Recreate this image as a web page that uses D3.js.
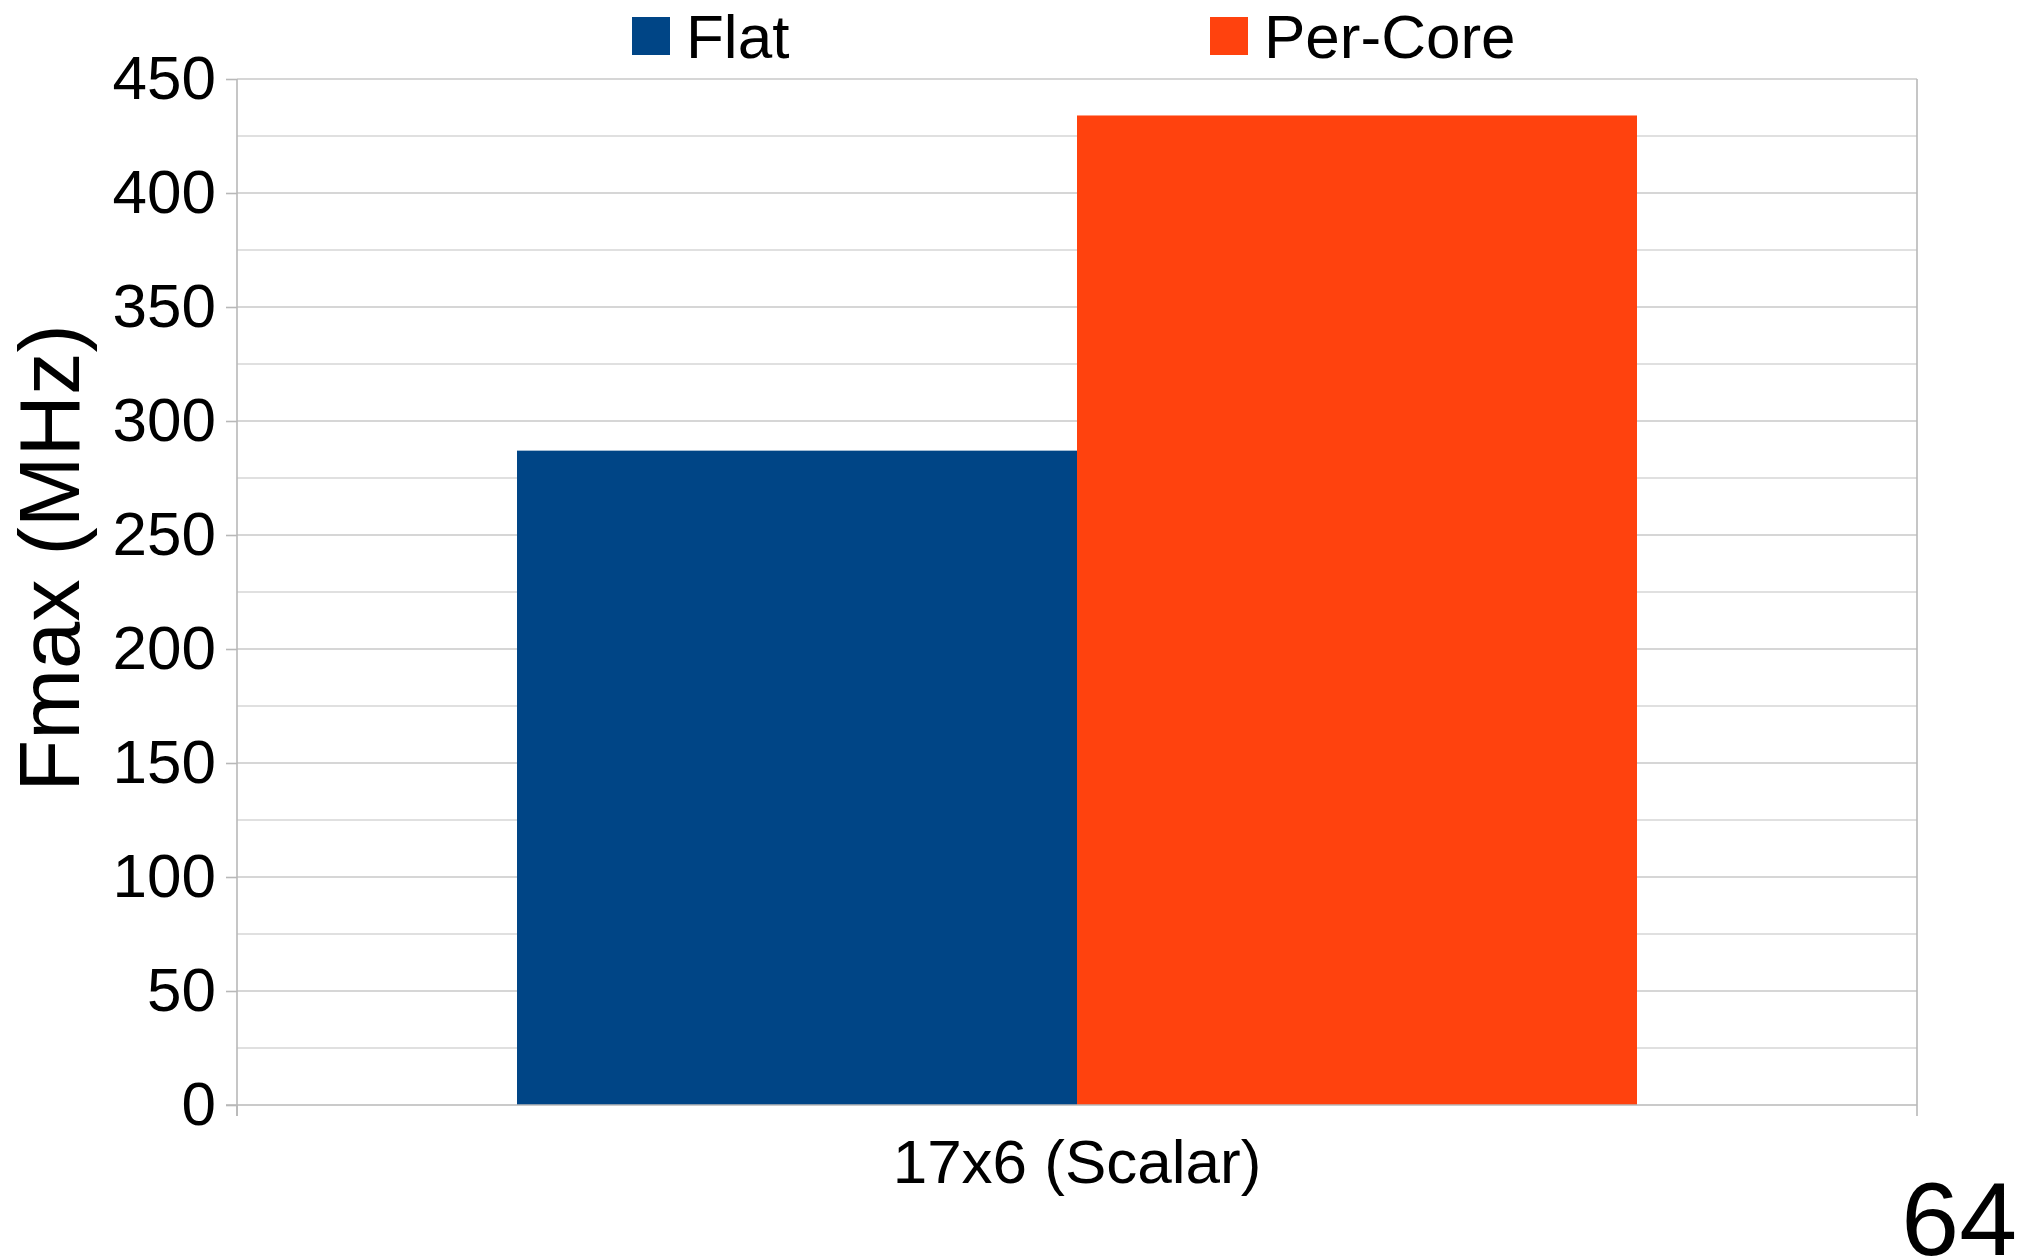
<!DOCTYPE html>
<html>
<head>
<meta charset="utf-8">
<script src="https://cdn.jsdelivr.net/npm/d3@7"></script>
<style>
  html, body { margin: 0; padding: 0; background: #ffffff; }
  svg { display: block; font-family: "Liberation Sans", Arial, sans-serif; }
</style>
</head>
<body>
<svg id="chart" width="2031" height="1258"></svg>
<script>
// Chart data
const categories = ["17x6 (Scalar)"];
const seriesNames = ["Flat", "Per-Core"];
const flatValues = [287];
const perCoreValues = [434];
const yTicks = [0, 50, 100, 150, 200, 250, 300, 350, 400, 450];
const yMinorTicks = [25, 75, 125, 175, 225, 275, 325, 375, 425];
const pageNumber = "64";

const colors = { "Flat": "#004586", "Per-Core": "#ff420e" };

const rows = categories.map((c, i) => ({
  category: c,
  values: [
    { series: "Flat", value: flatValues[i] },
    { series: "Per-Core", value: perCoreValues[i] }
  ]
}));

const svg = d3.select("#chart");
const plot = { left: 237, right: 1917, top: 79, bottom: 1105 };

const x = d3.scaleBand().domain(categories).range([plot.left, plot.right]).paddingInner(0).paddingOuter(0);
const xSub = d3.scaleBand().domain(seriesNames).range([0, x.bandwidth()]).paddingInner(0).paddingOuter(0.5);
const y = d3.scaleLinear().domain([0, 450]).range([plot.bottom, plot.top]);

// Minor gridlines
svg.append("g").selectAll("line").data(yMinorTicks).join("line")
  .attr("x1", plot.left).attr("x2", plot.right)
  .attr("y1", d => y(d)).attr("y2", d => y(d))
  .attr("stroke", "#d6d6d6").attr("stroke-width", 1.6);

// Major gridlines
svg.append("g").selectAll("line").data(yTicks.filter(d => d > 0)).join("line")
  .attr("x1", plot.left).attr("x2", plot.right)
  .attr("y1", d => y(d)).attr("y2", d => y(d))
  .attr("stroke", "#c8c8c8").attr("stroke-width", 1.6);

// Right border of the plot area
svg.append("line")
  .attr("x1", plot.right).attr("x2", plot.right)
  .attr("y1", plot.top).attr("y2", plot.bottom)
  .attr("stroke", "#b8b8b8").attr("stroke-width", 1.6);

// Bars
svg.append("g").selectAll("g").data(rows).join("g")
  .attr("transform", d => `translate(${x(d.category)},0)`)
  .selectAll("rect").data(d => d.values).join("rect")
  .attr("x", d => xSub(d.series))
  .attr("width", xSub.bandwidth())
  .attr("y", d => y(d.value))
  .attr("height", d => y(0) - y(d.value))
  .attr("fill", d => colors[d.series]);

// Y axis
const yAxis = svg.append("g")
  .attr("transform", `translate(${plot.left},0)`)
  .call(d3.axisLeft(y).tickValues(yTicks).tickSize(11).tickPadding(10).tickSizeOuter(0));
yAxis.select(".domain").attr("stroke", "#b8b8b8").attr("stroke-width", 1.6)
  .attr("d", `M0,${plot.top}V${plot.bottom + 11}`);
yAxis.selectAll(".tick line").attr("stroke", "#b8b8b8").attr("stroke-width", 1.6);
yAxis.selectAll(".tick text").attr("font-size", 62).attr("fill", "#000")
  .attr("font-family", "Liberation Sans, Arial, sans-serif");

// X axis
const xAxis = svg.append("g")
  .attr("transform", `translate(0,${plot.bottom})`)
  .call(d3.axisBottom(x).tickSize(0).tickPadding(34).tickSizeOuter(0));
xAxis.select(".domain").attr("stroke", "#b8b8b8").attr("stroke-width", 1.6)
  .attr("d", `M${plot.left - 11},0H${plot.right}`);
xAxis.selectAll(".tick text").attr("font-size", 62).attr("fill", "#000")
  .attr("font-family", "Liberation Sans, Arial, sans-serif");

// Category boundary ticks
const bounds = [x(categories[0]), ...categories.map(c => x(c) + x.bandwidth())];
svg.append("g").selectAll("line").data(bounds).join("line")
  .attr("x1", d => d).attr("x2", d => d)
  .attr("y1", plot.bottom).attr("y2", plot.bottom + 11)
  .attr("stroke", "#b8b8b8").attr("stroke-width", 1.6);

// Y axis title
svg.append("text")
  .attr("transform", "translate(79,558) rotate(-90)")
  .attr("text-anchor", "middle")
  .attr("font-size", 85)
  .attr("fill", "#000")
  .text("Fmax (MHz)");

// Legend
const legendX = [632, 1210];
const legend = svg.append("g").selectAll("g").data(seriesNames).join("g")
  .attr("transform", (d, i) => `translate(${legendX[i]},17)`);
legend.append("rect").attr("width", 38).attr("height", 38).attr("fill", d => colors[d]);
legend.append("text").attr("x", 54).attr("y", 41)
  .attr("font-size", 62).attr("fill", "#000").text(d => d);

// Page number
svg.append("text")
  .attr("x", 2017).attr("y", 1255)
  .attr("text-anchor", "end")
  .attr("font-size", 104)
  .attr("fill", "#000")
  .text(pageNumber);
</script>
</body>
</html>
